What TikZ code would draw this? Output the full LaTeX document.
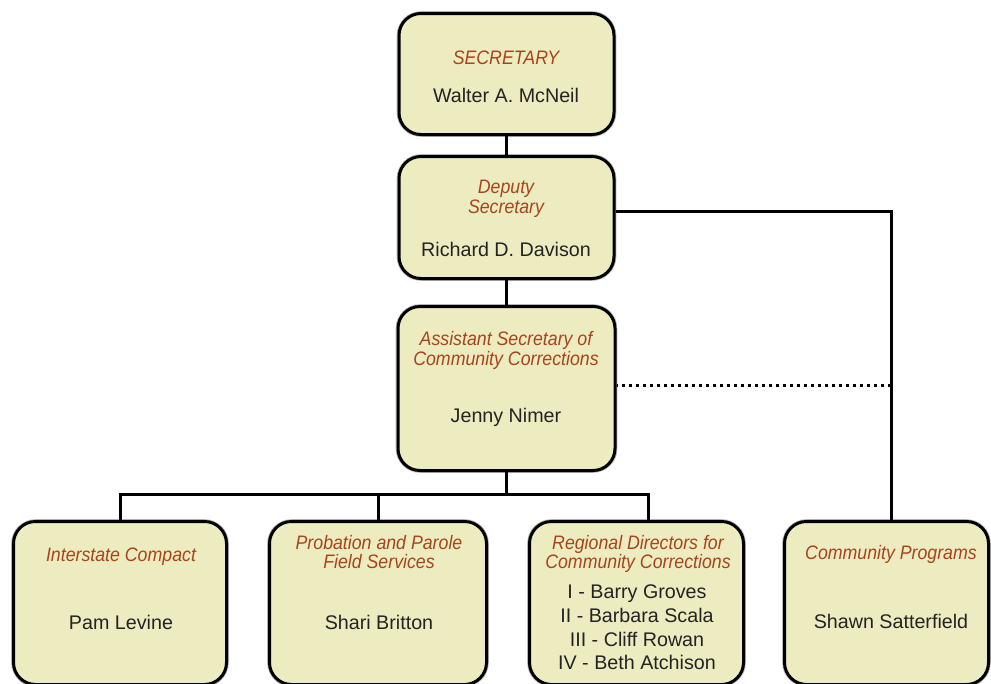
\documentclass[tikz,border=0pt]{standalone}
\usepackage{fontspec}
\setmainfont{Liberation Sans}
\newfontfamily\tfont[FakeStretch=0.91]{Liberation Sans}
\definecolor{boxfill}{RGB}{237,236,192}
\definecolor{ttlc}{RGB}{168,68,28}
\definecolor{nmc}{RGB}{35,35,35}
\tikzset{
  orgbox/.style={draw=black, line width=3pt, fill=boxfill, rounded corners=22pt, inner sep=0pt,
    preaction={draw=black!30, line width=4.6pt}},
  ttl/.style={anchor=base, text=ttlc, font=\tfont\itshape\fontsize{19.5}{20}\selectfont, inner sep=0pt},
  nm/.style={anchor=base, text=nmc, font=\fontsize{19.7}{24}\selectfont, inner sep=0pt},
  conn/.style={line width=3pt, line join=miter}
}
\begin{document}
\begin{tikzpicture}[x=1pt,y=-1pt]
\clip (0,0) rectangle (991,683);
\fill[white] (0,0) rectangle (991,683);
% boxes
\node[orgbox, minimum width=215pt, minimum height=121pt] (sec) at (506.5,74) {};
\node[orgbox, minimum width=215pt, minimum height=122pt] (dep) at (506.5,217.5) {};
\node[orgbox, minimum width=217pt, minimum height=164pt] (asst) at (506.5,388.5) {};
\node[orgbox, minimum width=213pt, minimum height=163pt] (ic) at (120,603) {};
\node[orgbox, minimum width=217pt, minimum height=163pt] (pp) at (378,603) {};
\node[orgbox, minimum width=214pt, minimum height=163pt] (rd) at (636.5,603) {};
\node[orgbox, minimum width=204pt, minimum height=163pt] (cp) at (886.5,603) {};
% connectors
\coordinate (bus) at (506.5,494);
\coordinate (rdtop) at (648,520);
\coordinate (cptop) at (891,520);
\draw[conn] (sec.south) -- (dep.north);
\draw[conn] (dep.south) -- (asst.north);
\draw[conn] ([yshift=6.5pt]dep.east) -| (cptop);
\draw[conn, dash pattern=on 3pt off 4pt] ([yshift=3.5pt]asst.east -| cptop) -- ([yshift=3.5pt]asst.east);
\draw[conn] (asst.south) -- (bus);
\draw[conn] (ic.north) |- (rdtop |- bus) -- (rdtop);
\draw[conn] (pp.north) -- (pp.north |- bus);
% texts
\node[ttl] (sec-t) at (506,64) {SECRETARY};
\node[nm] (sec-n) at (506,102) {Walter A. McNeil};
\node[ttl] (dep-t1) at (506,193) {Deputy};
\node[ttl] (dep-t2) at (506,213) {Secretary};
\node[nm] (dep-n) at (506,256) {Richard D. Davison};
\node[ttl] (asst-t1) at (506,345) {Assistant Secretary of};
\node[ttl] (asst-t2) at (506,365) {Community Corrections};
\node[nm] (asst-n) at (506,422) {Jenny Nimer};
\node[ttl] (ic-t) at (121,561) {Interstate Compact};
\node[nm] (ic-n) at (121,629) {Pam Levine};
\node[ttl] (pp-t1) at (379,549) {Probation and Parole};
\node[ttl] (pp-t2) at (379,568) {Field Services};
\node[nm] (pp-n) at (379,629) {Shari Britton};
\node[ttl] (rd-t1) at (638,549) {Regional Directors for};
\node[ttl] (rd-t2) at (638,568) {Community Corrections};
\node[nm] (rd-n1) at (637,598) {I - Barry Groves};
\node[nm] (rd-n2) at (637,622) {II - Barbara Scala};
\node[nm] (rd-n3) at (637,646) {III - Cliff Rowan};
\node[nm] (rd-n4) at (637,669) {IV - Beth Atchison};
\node[ttl] (cp-t) at (891,559) {Community Programs};
\node[nm] (cp-n) at (891,628) {Shawn Satterfield};
\end{tikzpicture}
\end{document}
